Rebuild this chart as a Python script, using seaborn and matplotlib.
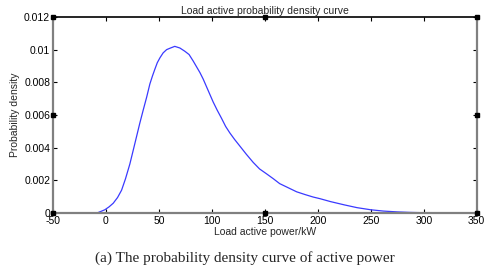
import numpy as np
import pandas as pd
import matplotlib
matplotlib.use("Agg")
import matplotlib.pyplot as plt
import seaborn as sns

# load active power (kW) and density
power = [-26, -15, -8.5, -1, 3, 6.9, 11, 14.8, 18.5, 22.6, 26, 29, 32, 35.2, 38.5,
         41.5, 44, 46.2, 48.5, 51, 54, 57.3, 61, 65, 69.8, 74.5, 78.5, 82.4, 86,
         88.7, 91.8, 96.5, 101.2, 105, 109.1, 113, 117, 121.5, 126.4, 132.5, 139,
         145, 151.6, 158, 164, 172, 180, 188, 195.6, 202, 212, 225, 237, 250, 262,
         275, 287, 300, 325, 350]
density = [0, 0, 0, 0.0002, 0.00038, 0.0006, 0.00095, 0.0014, 0.0021, 0.0030,
           0.0039, 0.0047, 0.0055, 0.0063, 0.0071, 0.0079, 0.0084, 0.0088, 0.0092,
           0.0095, 0.0098, 0.0100, 0.0101, 0.0102, 0.0101, 0.0099, 0.0097, 0.0093,
           0.0089, 0.0086, 0.0082, 0.0075, 0.0068, 0.0063, 0.0058, 0.0053, 0.0049,
           0.0045, 0.0041, 0.0036, 0.0031, 0.0027, 0.0024, 0.0021, 0.0018, 0.00155,
           0.0013, 0.00113, 0.00098, 0.00088, 0.0007, 0.0005, 0.00033, 0.0002,
           0.00012, 0.00007, 0.00004, 0.00002, 0.0, 0.0]
x_ticks = [-50, 0, 50, 100, 150, 200, 250, 300, 350]
y_ticks = [0, 0.002, 0.004, 0.006, 0.008, 0.01, 0.012]
y_tick_labels = ["0", "0.002", "0.004", "0.006", "0.008", "0.01", "0.012"]

df = pd.DataFrame({"power": power, "density": density})

sns.set_style("white")
plt.rcParams['font.family'] = ['Liberation Sans', 'DejaVu Sans']

fig = plt.figure(figsize=(4.9, 2.69), dpi=100)
ax = fig.add_axes([0.108, 0.208, 0.865, 0.729])

sns.lineplot(data=df, x="power", y="density", color="#3a3aff", lw=0.9, ax=ax)

ax.set_xlim(-50, 350)
ax.set_ylim(0, 0.012)
ax.set_xticks(x_ticks)
ax.set_xticklabels([str(t) for t in x_ticks])
ax.set_yticks(y_ticks)
ax.set_yticklabels(y_tick_labels)
ax.tick_params(direction="in", length=3, width=0.8, labelsize=7.5, pad=2,
               top=True, right=True, bottom=True, left=True, colors="black")

for side in ["left", "right", "bottom"]:
    ax.spines[side].set_color("#808080")
    ax.spines[side].set_linewidth(1.6)
ax.spines["top"].set_color("black")
ax.spines["top"].set_linewidth(1.2)

# MATLAB selection handles
for fx in [0, 0.5, 1]:
    for fy in [0, 0.5, 1]:
        if fx == 0.5 and fy == 0.5:
            continue
        ax.plot(fx, fy, marker="s", ms=3.5, color="black", transform=ax.transAxes,
                clip_on=False, zorder=5)

ax.set_title("Load active probability density curve", fontsize=7.5, pad=2)
ax.set_xlabel("Load active power/kW", fontsize=7.5, labelpad=1)
ax.set_ylabel("Probability density", fontsize=7.5, labelpad=3)

fig.text(0.5, 0.04, "(a) The probability density curve of active power",
         ha="center", va="center", fontsize=11, family="Liberation Serif")

fig.savefig("out.png", dpi=100)
